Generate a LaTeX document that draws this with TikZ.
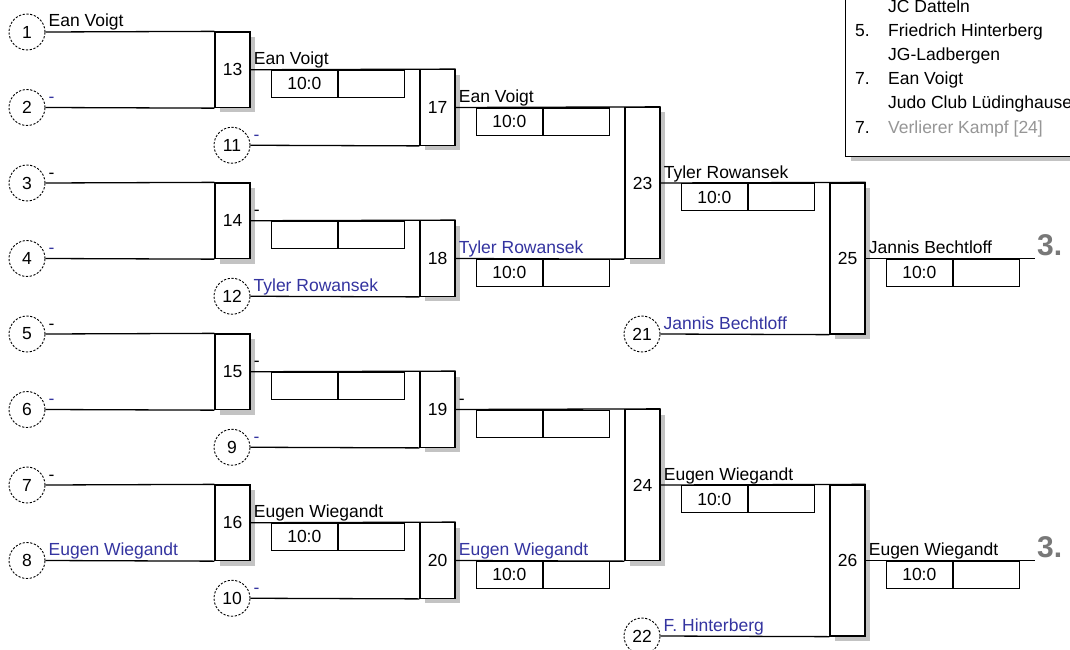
\documentclass[tikz,border=0pt]{standalone}
\usepackage{fontspec}
\setmainfont{Liberation Sans}
\usetikzlibrary{shadows}
\definecolor{linkblue}{RGB}{52,52,160}
\definecolor{shgray}{RGB}{195,195,195}
\definecolor{placegray}{RGB}{120,120,120}
\definecolor{lightgr}{RGB}{150,150,150}
\newcommand{\fsz}{\fontsize{17.5}{21}\selectfont}
\begin{document}
\begin{tikzpicture}[x=1pt,y=-1pt,
  pc/.style={circle, draw, dash pattern=on 2.2pt off 1.6pt, line width=0.9pt, minimum size=36pt, inner sep=0pt, font=\fsz},
  mb/.style={rectangle, draw, line width=1.3pt, fill=white, minimum width=35pt, inner sep=0pt, font=\fsz,
     drop shadow={fill=shgray, opacity=1, shadow xshift=5pt, shadow yshift=-5pt}},
  sb/.style={rectangle, draw, line width=1.3pt, minimum width=66pt, minimum height=27pt, inner sep=0pt, font=\fsz, anchor=north west},
  nm/.style={anchor=base west, inner sep=0pt, font=\fsz, xshift=3pt, yshift=5pt},
  bl/.style={nm, text=linkblue},
  ln/.style={line width=1.3pt},
  lg/.style={anchor=base west, inner sep=0pt, font=\fsz},
  place/.style={anchor=base west, inner sep=0pt, font=\fontsize{30}{33}\selectfont\bfseries, text=placegray, xshift=2pt, yshift=3pt}
]
\clip (0,0) rectangle (1070,650);
\fill[white] (0,0) rectangle (1070,650);

% legend
\node[draw, line width=1.3pt, fill=white, minimum width=260pt, minimum height=200pt, inner sep=0pt, anchor=south west,
   drop shadow={fill=shgray, opacity=1, shadow xshift=5pt, shadow yshift=-5pt}] (legend) at (845,157) {};
\node[lg] (l1) at (888,13) {JC Datteln};
\node[lg] (l2n) at (855,37) {5.};
\node[lg] (l2) at (888,37) {Friedrich Hinterberg};
\node[lg] (l3) at (888,61) {JG-Ladbergen};
\node[lg] (l4n) at (855,85) {7.};
\node[lg] (l4) at (888,85) {Ean Voigt};
\node[lg] (l5) at (888,109) {Judo Club Lüdinghause};
\node[lg] (l6n) at (855,133) {7.};
\node[lg, text=lightgr] (l6) at (888,133) {Verlierer Kampf [24]};

% entry circles
\foreach \n/\y in {1/32,2/107.5,3/183,4/258.5,5/334,6/409.5,7/485,8/560.5}
  \node[pc] (c\n) at (27,\y) {\n};
\foreach \n/\y in {11/145.25,12/296.25,9/447.25,10/598.25}
  \node[pc] (c\n) at (232,\y) {\n};
\node[pc] (c21) at (642,334) {21};
\node[pc] (c22) at (642,636) {22};

% match boxes
\foreach \n/\x/\y/\h in {13/232.5/69.75/75.5, 14/232.5/220.75/75.5, 15/232.5/371.75/75.5, 16/232.5/522.75/75.5,
   17/437.5/107.5/75.5, 18/437.5/258.5/75.5, 19/437.5/409.5/75.5, 20/437.5/560.5/75.5,
   23/642.5/183/151, 24/642.5/485/151, 25/847.5/258.5/151, 26/847.5/560.5/151}
  \node[mb, minimum height=\h pt] (m\n) at (\x,\y) {\n};

% end points
\coordinate (f25) at (1035,258.5);
\coordinate (f26) at (1035,560.5);

% connectors
\draw[ln] (c1.east) -- (m13.north west);  \draw[ln] (c2.east) -- (m13.south west);
\draw[ln] (c3.east) -- (m14.north west);  \draw[ln] (c4.east) -- (m14.south west);
\draw[ln] (c5.east) -- (m15.north west);  \draw[ln] (c6.east) -- (m15.south west);
\draw[ln] (c7.east) -- (m16.north west);  \draw[ln] (c8.east) -- (m16.south west);
\draw[ln] (m13.east) -- (m17.north east); \draw[ln] (c11.east) -- (m17.south west);
\draw[ln] (m14.east) -- (m18.north east); \draw[ln] (c12.east) -- (m18.south west);
\draw[ln] (m15.east) -- (m19.north east); \draw[ln] (c9.east) -- (m19.south west);
\draw[ln] (m16.east) -- (m20.north east); \draw[ln] (c10.east) -- (m20.south west);
\draw[ln] (m17.east) -- (m23.north east); \draw[ln] (m18.east) -- (m23.south west);
\draw[ln] (m19.east) -- (m24.north east); \draw[ln] (m20.east) -- (m24.south west);
\draw[ln] (m23.east) -- (m25.north east); \draw[ln] (c21.east) -- (m25.south west);
\draw[ln] (m24.east) -- (m26.north east); \draw[ln] (c22.east) -- (m26.south west);
\draw[ln] (m25.east) -- (f25);
\draw[ln] (m26.east) -- (f26);

% score boxes
\foreach \n/\s in {13/10:0, 14/, 15/, 16/10:0, 17/10:0, 18/10:0, 19/, 20/10:0, 23/10:0, 24/10:0, 25/10:0, 26/10:0}{
  \node[sb] (s\n a) at ([xshift=20pt]m\n.east) {\s};
  \node[sb] (s\n b) at (s\n a.north east) {};
}

% names on entry lines
\node[nm] (n1) at (c1.east) {Ean Voigt};
\node[bl] (n2) at (c2.east) {-};
\node[nm] (n3) at (c3.east) {-};
\node[bl] (n4) at (c4.east) {-};
\node[nm] (n5) at (c5.east) {-};
\node[bl] (n6) at (c6.east) {-};
\node[nm] (n7) at (c7.east) {-};
\node[bl] (n8) at (c8.east) {Eugen Wiegandt};
\node[bl] (n11) at (c11.east) {-};
\node[bl] (n12) at (c12.east) {Tyler Rowansek};
\node[bl] (n9) at (c9.east) {-};
\node[bl] (n10) at (c10.east) {-};
\node[bl] (n21) at (c21.east) {Jannis Bechtloff};
\node[bl] (n22) at (c22.east) {F. Hinterberg};

% winners
\node[nm] (w13) at (m13.east) {Ean Voigt};
\node[nm] (w14) at (m14.east) {-};
\node[nm] (w15) at (m15.east) {-};
\node[nm] (w16) at (m16.east) {Eugen Wiegandt};
\node[nm] (w17) at (m17.east) {Ean Voigt};
\node[bl] (w18) at (m18.east) {Tyler Rowansek};
\node[nm] (w19) at (m19.east) {-};
\node[bl] (w20) at (m20.east) {Eugen Wiegandt};
\node[nm] (w23) at (m23.east) {Tyler Rowansek};
\node[nm] (w24) at (m24.east) {Eugen Wiegandt};
\node[nm] (w25) at (m25.east) {Jannis Bechtloff};
\node[nm] (w26) at (m26.east) {Eugen Wiegandt};

% places
\node[place] (p25) at (f25) {3.};
\node[place] (p26) at (f26) {3.};
\end{tikzpicture}
\end{document}
